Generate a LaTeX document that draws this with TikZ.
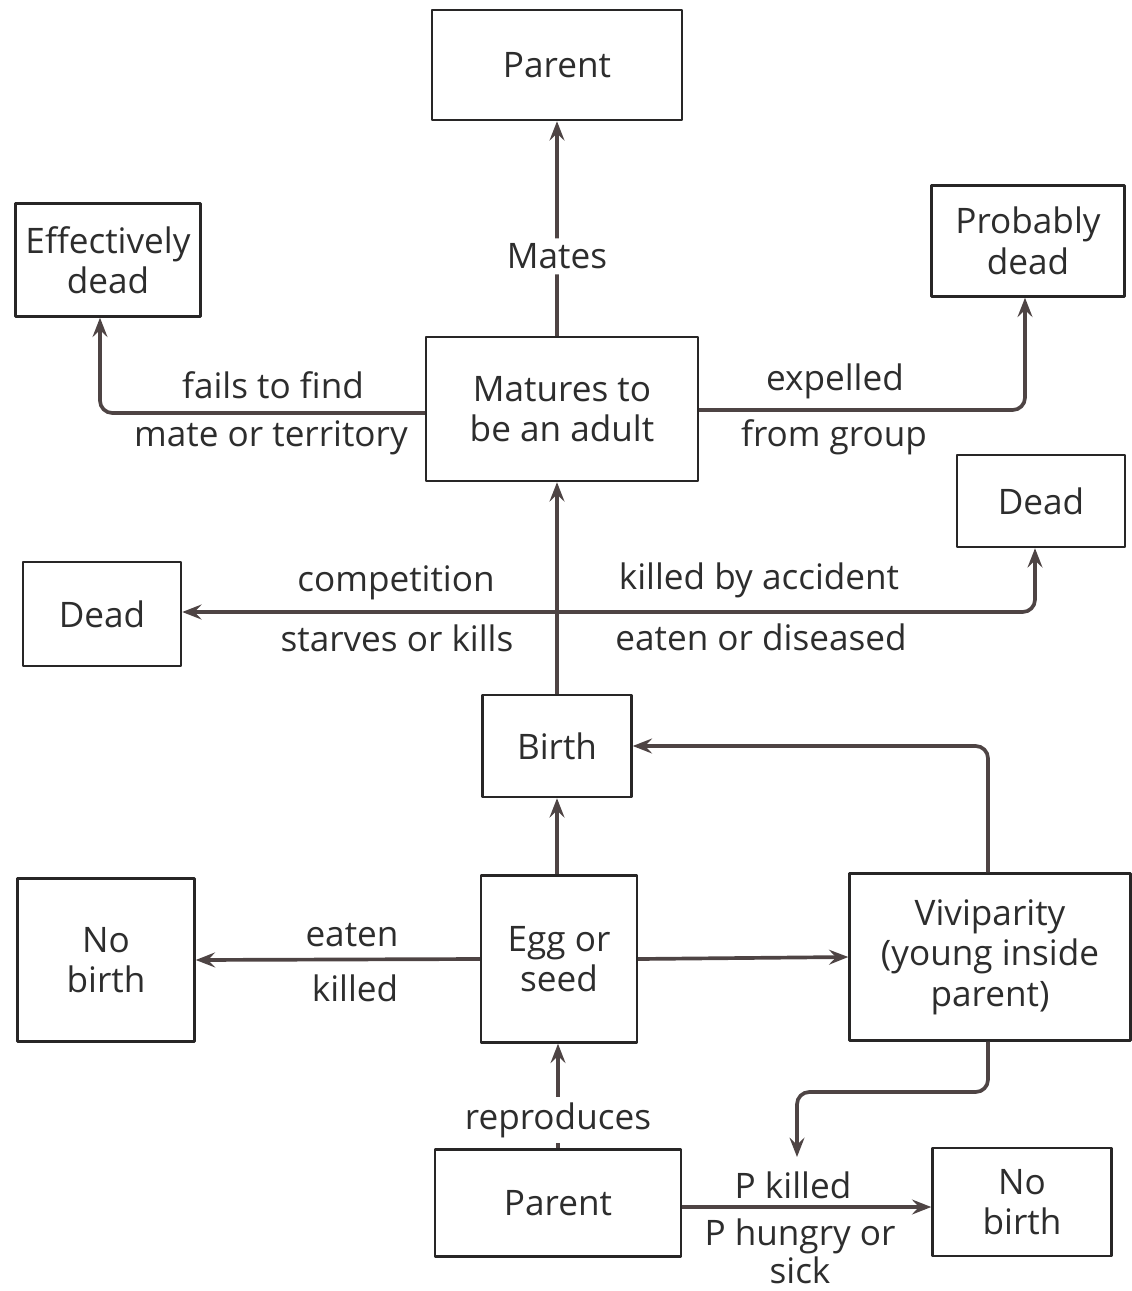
\documentclass[tikz,border=0pt]{standalone}
\usepackage{fontspec}
\setmainfont{Open Sans}
\usetikzlibrary{arrows.meta,positioning,calc}
\definecolor{inkbox}{RGB}{40,38,38}
\definecolor{inkline}{RGB}{78,68,68}
\definecolor{inktext}{RGB}{45,45,45}

\begin{document}
\begin{tikzpicture}[x=0.02cm, y=-0.02cm, line join=round,
  every node/.style={font=\fontsize{20}{23}\selectfont, text=inktext, align=center},
  box/.style={draw=inkbox, line width=1.4pt, fill=white, inner sep=0pt},
  conn/.style={draw=inkline, line width=2.1pt, rounded corners=7pt,
    -{Stealth[length=11pt, width=8.5pt, inset=4pt]}},
  lab/.style={inner sep=1pt},
  onlab/.style={fill=white, inner sep=3pt}]
\useasboundingbox (0,0) rectangle (1132,1291);
\node[box, minimum width=5.0cm,  minimum height=2.2cm]  (ptop)     at (557,65)   {Parent};
\node[box, minimum width=3.7cm,  minimum height=2.26cm] (effdead)  at (108,260)  {Effectively\\dead};
\node[box, minimum width=3.86cm, minimum height=2.22cm] (probdead) at (1028,241) {Probably\\dead};
\node[box, minimum width=5.44cm, minimum height=2.88cm] (matures)  at (562,409)  {Matures to\\be an adult};
\node[box, minimum width=3.36cm, minimum height=1.84cm] (deadr)    at (1041,501) {Dead};
\node[box, minimum width=3.16cm, minimum height=2.08cm] (deadl)    at (102,614)  {Dead};
\node[box, minimum width=2.98cm, minimum height=2.04cm] (birth)    at (557,746)  {Birth};
\node[box, minimum width=3.54cm, minimum height=3.26cm] (nobirthl) at (106,960)  {No\\birth};
\node[box, minimum width=3.12cm, minimum height=3.34cm] (egg)      at (559,959)  {Egg or\\seed};
\node[box, minimum width=5.62cm, minimum height=3.34cm] (vivi)     at (990,957)  {Viviparity\\(young inside\\parent)};
\node[box, minimum width=4.92cm, minimum height=2.14cm] (pbot)     at (558,1203) {Parent};
\node[box, minimum width=3.58cm, minimum height=2.16cm] (nobirthr) at (1022,1202) {No\\birth};
\coordinate (split) at (557,612);
\coordinate (vbend) at (797,1092);
\coordinate (vend)  at (797,1157);

\draw[conn] (ptop.south |- matures.north) -- node[onlab, pos=0.37] (lmates) {Mates} (ptop.south);
\draw[conn] (matures.west |- 0,413) -| ([xshift=-8*0.02cm]effdead.south);
\draw[conn] (matures.east |- 0,410) -| ([xshift=-3*0.02cm]probdead.south);
\draw[conn] (birth.north) -- (birth.north |- matures.south);
\draw[conn] (split) -- (split -| deadl.east);
\draw[conn] (split) -| ([xshift=-6*0.02cm]deadr.south);
\draw[conn] (egg.north -| birth.south) -- (birth.south);
\draw[conn] (egg.west) -- (nobirthl.east);
\draw[conn] (egg.east) -- (vivi.west);
\draw[conn] ([xshift=-2*0.02cm]vivi.north) |- (birth.east);
\draw[conn] ([xshift=-2*0.02cm]vivi.south) |- (vbend) -- (vend);
\draw[conn] (pbot.north) -- node[onlab, pos=0.27] (lrepro) {reproduces} (pbot.north |- egg.south);
\draw[conn] (pbot.east |- 0,1207) -- (nobirthr.west |- 0,1207);

\node[lab] (lfail)   at (273,385) {fails to find};
\node[lab] (lmate)   at (271,438) {mate or territory};
\node[lab] (lexp)    at (835,381) {expelled};
\node[lab] (lgroup)  at (834,437) {from group};
\node[lab] (lcomp)   at (396,583) {competition};
\node[lab] (lstarve) at (397,638) {starves or kills};
\node[lab] (lacc)    at (759,580) {killed by accident};
\node[lab] (leaten)  at (761,637) {eaten or diseased};
\node[lab] (leat)    at (352,935) {eaten};
\node[lab] (lkill)   at (355,988) {killed};
\node[lab] (lpk)     at (793,1185) {P killed};
\node[lab, font=\fontsize{20}{21.5}\selectfont] (lphs) at (800,1251) {P hungry or\\sick};
\end{tikzpicture}
\end{document}
